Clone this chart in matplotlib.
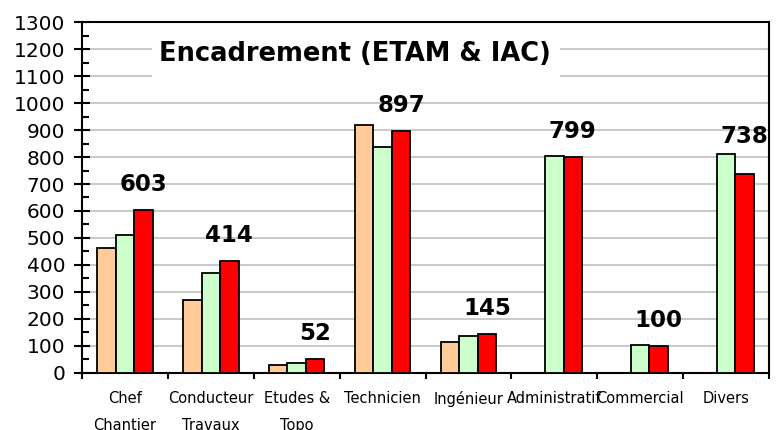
import numpy as np
import matplotlib
matplotlib.use('Agg')
import matplotlib.pyplot as plt
from matplotlib.patches import Rectangle

# data
categories = ['Chef\nChantier', 'Conducteur\nTravaux', 'Etudes &\nTopo', 'Technicien',
              'Ingénieur', 'Administratif', 'Commercial', 'Divers']
serie1 = [462, 271, 31, 917, 113, np.nan, np.nan, np.nan]
serie2 = [512, 371, 38, 837, 138, 802, 105, 811]
serie3 = [603, 414, 52, 897, 145, 799, 100, 738]
colors = ['#FFCC99', '#CCFFCC', '#FF0000']

plt.rcParams['font.family'] = ['DejaVu Sans']

fig = plt.figure(figsize=(7.76, 4.3), dpi=100)
ax = fig.add_axes([0.1057, 0.1326, 0.8853, 0.8162])

x = np.arange(len(categories))
w = 0.215
for i, s in enumerate([serie1, serie2, serie3]):
    ax.bar(x + (i - 1) * w, s, width=w, color=colors[i], edgecolor='black',
           linewidth=1.3, zorder=3)

# value labels above the red bars
for i in range(len(categories)):
    top = max(serie3[i] + 52, np.nanmax([serie1[i], serie2[i], serie3[i]]) + 22)
    ax.text(x[i] + w, top, str(serie3[i]), ha='center', va='bottom',
            fontsize=16.5, fontweight='bold', zorder=5)

ax.set_xlim(-0.5, len(categories) - 0.5)
ax.set_ylim(0, 1300)
ax.set_yticks(np.arange(0, 1301, 100))
ax.set_yticks(np.arange(50, 1300, 100), minor=True)
ax.tick_params(axis='y', which='major', direction='inout', length=12, width=1.5,
               labelsize=14.5, pad=6)
ax.tick_params(axis='y', which='minor', direction='in', length=5, width=1.5)

# category ticks at group boundaries, labels centered
ax.set_xticks(np.arange(-0.5, len(categories), 1.0))
ax.set_xticklabels([])
ax.set_xticks(x, minor=True)
ax.set_xticklabels(categories, minor=True, fontsize=10.5, linespacing=2.0)
ax.tick_params(axis='x', which='major', direction='out', length=4, width=1.5)
ax.tick_params(axis='x', which='minor', length=0, pad=13)

ax.yaxis.grid(True, color='#C0C0C0', linewidth=1.2, zorder=0)
ax.set_axisbelow(True)
for sp in ax.spines.values():
    sp.set_linewidth(1.5)
    sp.set_color('black')

# title in white box over the grid
ax.add_patch(Rectangle((0.102, 0.80), 0.594, 0.17, transform=ax.transAxes,
                       facecolor='white', edgecolor='none', zorder=1))
ax.text(0.397, 0.909, 'Encadrement (ETAM & IAC)', transform=ax.transAxes,
        ha='center', va='center', fontsize=18.5, fontweight='bold', zorder=6)

plt.savefig('out.png', dpi=100)
